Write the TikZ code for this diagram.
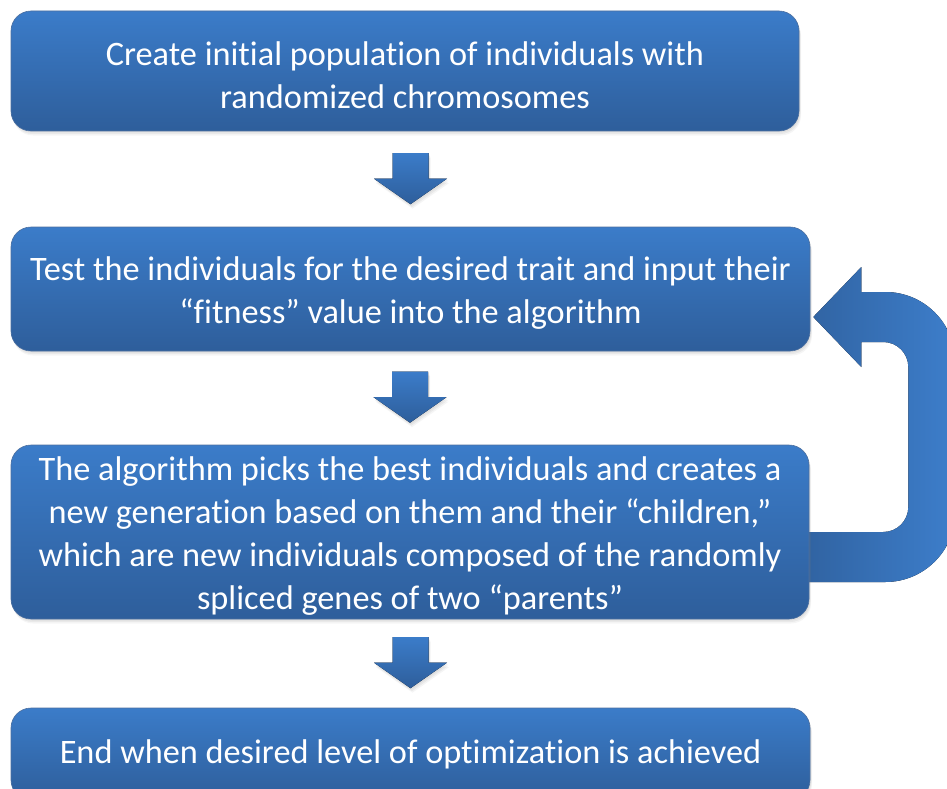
\documentclass[tikz,border=0pt]{standalone}
\usepackage{fontspec}
\setmainfont{Carlito}[Ligatures={NoCommon}]
\usetikzlibrary{shadows,calc}
\pgfdeclarelayer{background}
\pgfsetlayers{background,main}

\definecolor{boxtop}{HTML}{3B7CC9}
\definecolor{boxbot}{HTML}{2E5E9B}
\definecolor{boxrim}{HTML}{4C6F9F}
\definecolor{loopdark}{HTML}{3062A0}
\definecolor{looplight}{HTML}{3D7ECB}

% extra room above the first line of a box text
\newcommand\firstlinestrut{\rule{0pt}{31.5pt}}

\tikzset{
  softshadow/.style={
    drop shadow={opacity=.10, shadow xshift=1pt, shadow yshift=-1.5pt},
    drop shadow={opacity=.10, shadow xshift=1.5pt, shadow yshift=-3pt},
    drop shadow={opacity=.08, shadow xshift=2pt, shadow yshift=-4.5pt}},
  stepbox/.style={rounded corners=20pt, top color=boxtop, bottom color=boxbot,
    draw=boxrim, line width=0.6pt, text=white, align=center,
    font=\fontsize{34.3}{43}\selectfont, inner sep=0pt, softshadow},
  downarr/.pic={
    \fill[top color=boxtop, bottom color=boxbot, softshadow]
      (-18,-25.5) -- (18,-25.5) -- (18,0) -- (36.5,0) -- (0,25.5)
      -- (-36.5,0) -- (-18,0) -- cycle;}
}

\begin{document}
\begin{tikzpicture}[x=1pt,y=-1pt]
\useasboundingbox (0,0) rectangle (947,789);

% process steps
\node[stepbox, minimum width=788pt, minimum height=120pt] (b1) at (405,71)
  {\firstlinestrut Create initial population of individuals with\\randomized chromosomes};
\node[stepbox, minimum width=799pt, minimum height=124pt] (b2) at (410.5,289)
  {\firstlinestrut Test the individuals for the desired trait and input their\\“fitness” value into the algorithm};
\node[stepbox, minimum width=798pt, minimum height=174pt] (b3) at (410,532)
  {\firstlinestrut The algorithm picks the best individuals and creates a\\new generation based on them and their “children,”\\which are new individuals composed of the randomly\\spliced genes of two “parents”};
\node[stepbox, minimum width=799pt, minimum height=92pt] (b4) at (410.5,754)
  {End when desired level of optimization is achieved};

% arrows between consecutive steps
\path (b2.north) ++(0,-48) pic {downarr};
\path (b3.north) ++(0,-47.5) pic {downarr};
\path (b4.north) ++(0,-45) pic {downarr};

% loop back from selection to fitness testing
\coordinate (looptip) at ([xshift=3pt,yshift=-28pt]b2.east);
\begin{pgfonlayer}{background}
\begin{scope}[shift={(looptip)}]
  \fill[left color=loopdark, right color=looplight]
    (-14,265) -- (72,265) arc[start angle=90, end angle=0, radius=70]
    -- (142,45) arc[start angle=0, end angle=-90, radius=70]
    -- (48,-25) -- (48,-50) -- (0,0) -- (48,50) -- (48,25)
    -- (70,25) arc[start angle=-90, end angle=0, radius=25]
    -- (95,190) arc[start angle=0, end angle=90, radius=25]
    -- (-14,215) -- cycle;
\end{scope}
\end{pgfonlayer}
\end{tikzpicture}
\end{document}
